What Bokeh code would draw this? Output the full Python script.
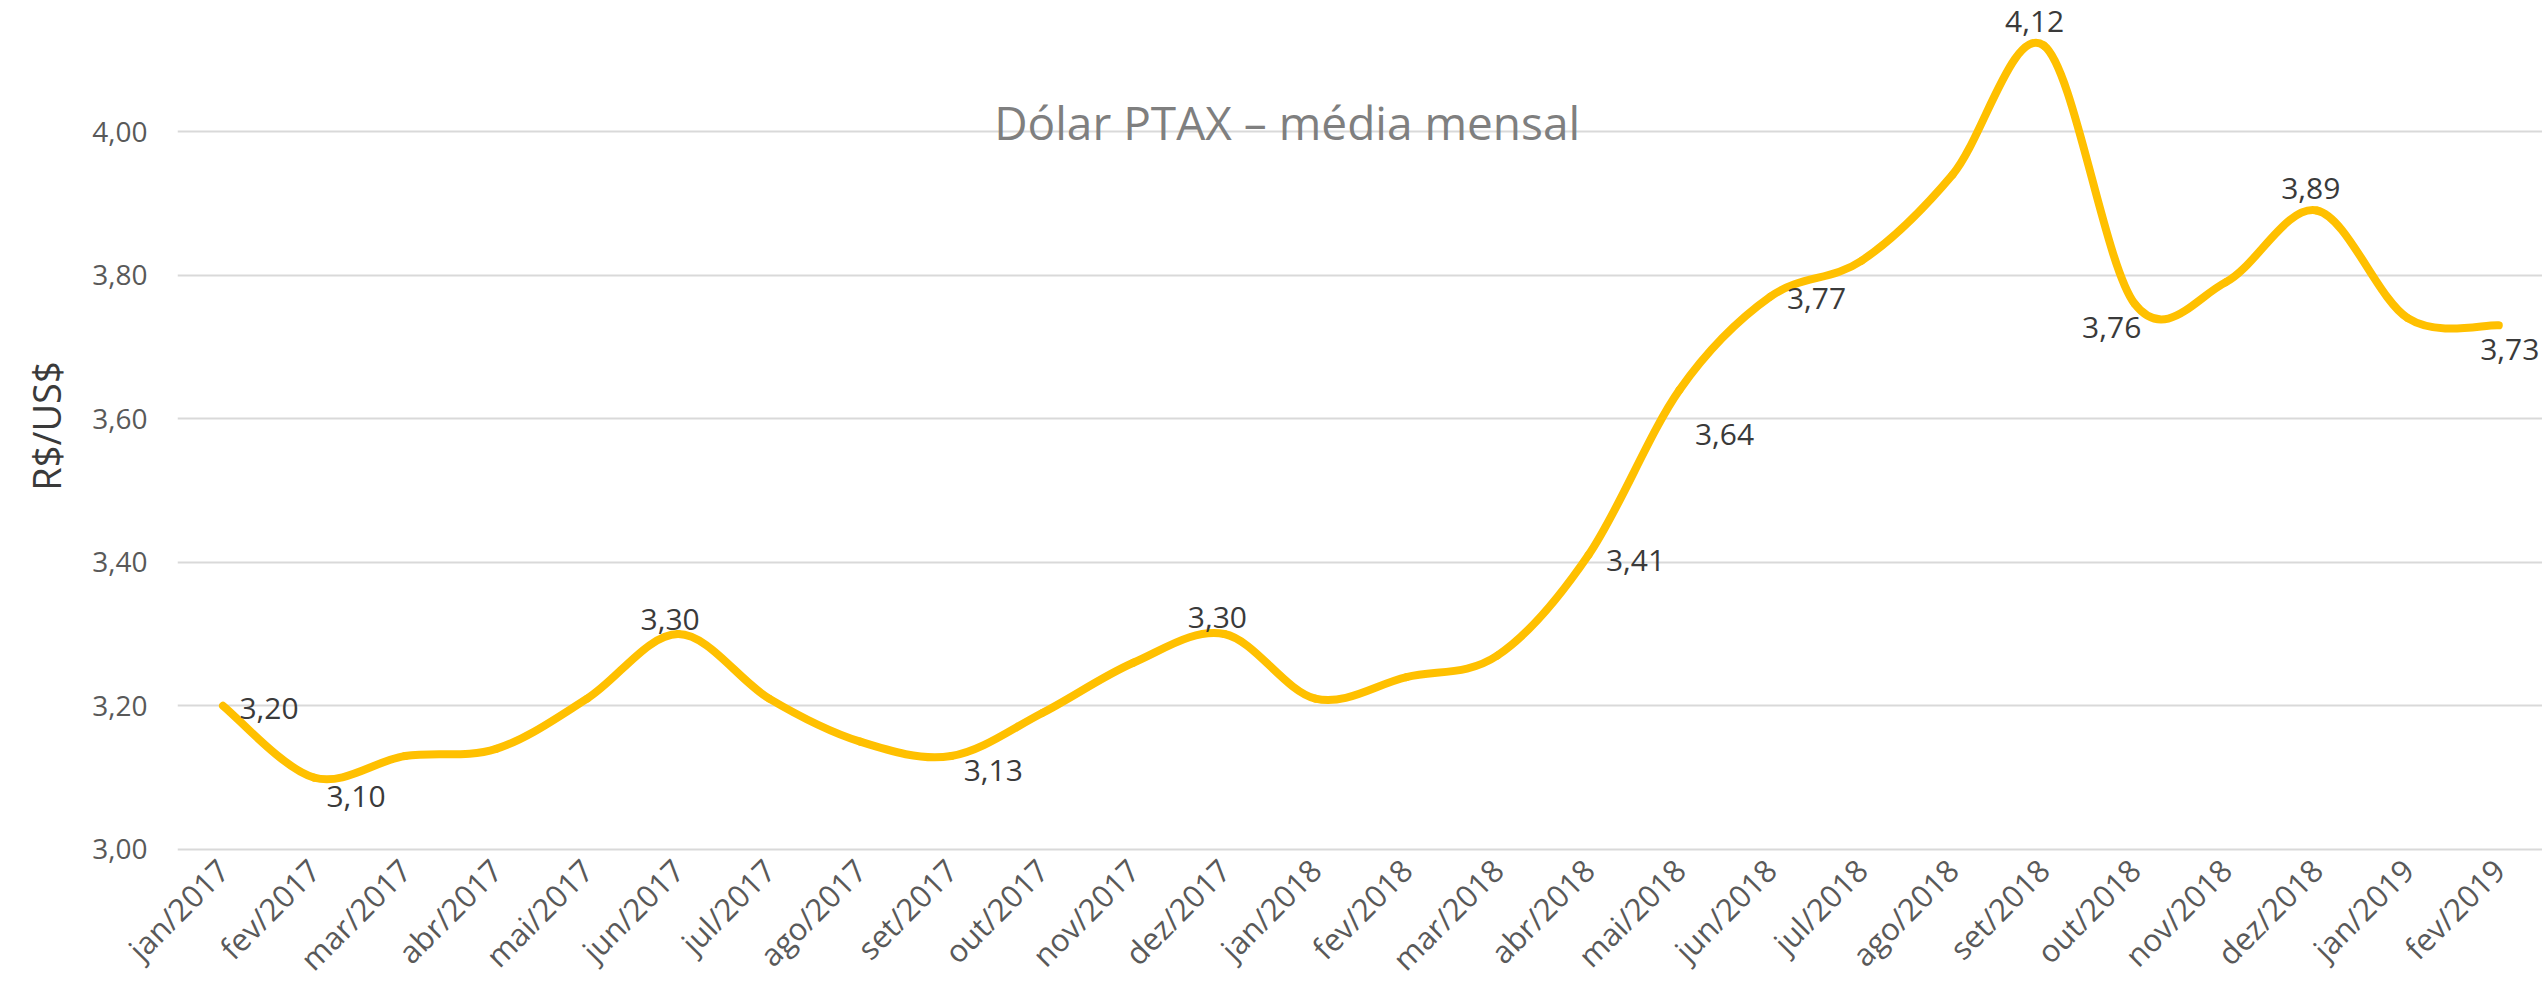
import math
from bokeh.plotting import figure
from bokeh.models import (ColumnDataSource, LabelSet, Label, FixedTicker, Range1d,
                          CustomJSTickFormatter)
from bokeh.core.properties import value
from bokeh.embed import file_html
from bokeh.resources import INLINE

# ---------------- data ----------------
months = ["jan/2017", "fev/2017", "mar/2017", "abr/2017", "mai/2017", "jun/2017",
          "jul/2017", "ago/2017", "set/2017", "out/2017", "nov/2017", "dez/2017",
          "jan/2018", "fev/2018", "mar/2018", "abr/2018", "mai/2018", "jun/2018",
          "jul/2018", "ago/2018", "set/2018", "out/2018", "nov/2018", "dez/2018",
          "jan/2019", "fev/2019"]
ptax = [3.20, 3.10, 3.13, 3.14, 3.21, 3.30,
        3.21, 3.15, 3.13, 3.19, 3.26, 3.30,
        3.21, 3.24, 3.27, 3.41, 3.64, 3.77,
        3.82, 3.94, 4.12, 3.76, 3.79, 3.89,
        3.74, 3.73]
y_ticks = [3.00, 3.20, 3.40, 3.60, 3.80, 4.00]
chart_title = "Dólar PTAX – média mensal"
y_title = "R$/US$"

# which points carry a data label, and where (pixel offsets: right, down)
labeled_idx = [0, 1, 5, 8, 11, 15, 16, 17, 20, 21, 23, 25]
label_dx = [46, 42, -8, 42, -7, 47, 45, 46, -9, -23, -6, 11]
label_dy = [3, 19, -14, 14, -16, 5, 45, 2, -24, 24, -22, 24]

FONT = "Open Sans"
LINE_COLOR = "#FFC000"

# ---------------- figure ----------------
p = figure(width=2542, height=1000,
           x_range=Range1d(-0.5, 25.48), y_range=Range1d(2.997, 4.1825),
           output_backend="svg", toolbar_location=None,
           min_border_left=177, min_border_right=0,
           min_border_top=0, min_border_bottom=149)
p.outline_line_color = None
p.background_fill_color = "white"
p.border_fill_color = "white"

# smoothed line (Catmull-Rom style Bezier, like a spreadsheet "smoothed line")
n = len(ptax)
xs = list(range(n))
x0, y0, x1, y1, cx0, cy0, cx1, cy1 = [], [], [], [], [], [], [], []
for i in range(n - 1):
    im1 = max(i - 1, 0)
    ip2 = min(i + 2, n - 1)
    x0.append(xs[i]); y0.append(ptax[i])
    x1.append(xs[i + 1]); y1.append(ptax[i + 1])
    cx0.append(xs[i] + (xs[i + 1] - xs[im1]) / 6.0)
    cy0.append(ptax[i] + (ptax[i + 1] - ptax[im1]) / 6.0)
    cx1.append(xs[i + 1] - (xs[ip2] - xs[i]) / 6.0)
    cy1.append(ptax[i + 1] - (ptax[ip2] - ptax[i]) / 6.0)
bz = ColumnDataSource(dict(x0=x0, y0=y0, x1=x1, y1=y1, cx0=cx0, cy0=cy0, cx1=cx1, cy1=cy1))
p.bezier(x0="x0", y0="y0", x1="x1", y1="y1", cx0="cx0", cy0="cy0", cx1="cx1", cy1="cy1",
         source=bz, line_color=LINE_COLOR, line_width=8, line_cap="round")

# data labels
lab = ColumnDataSource(dict(
    x=[xs[i] for i in labeled_idx],
    y=[ptax[i] for i in labeled_idx],
    text=[("%.2f" % ptax[i]).replace(".", ",") for i in labeled_idx],
    dx=label_dx,
    dy=[-d for d in label_dy],
))
p.add_layout(LabelSet(x="x", y="y", text="text", source=lab,
                      x_offset="dx", y_offset="dy",
                      text_align="center", text_baseline="middle",
                      text_font=value(FONT), text_font_size="30px",
                      text_color="#3a3a3a"))

# chart title inside plot area
p.add_layout(Label(x=11.69, y=4.0126, text=chart_title,
                   text_align="center", text_baseline="alphabetic",
                   text_font=FONT, text_font_size="46px", text_color="#7f7f7f"))

# ---------------- axes ----------------
xa = p.xaxis[0]
xa.ticker = FixedTicker(ticks=xs)
xa.formatter = CustomJSTickFormatter(args=dict(months=months),
                                     code="return months[Math.round(tick)] || '';")
xa.major_label_orientation = math.pi / 4
xa.axis_line_color = None
xa.major_tick_line_color = None
xa.minor_tick_line_color = None
xa.major_tick_out = 0
xa.major_label_standoff = 13
xa.major_label_text_font = FONT
xa.major_label_text_font_size = "31px"
xa.major_label_text_color = "#595959"

ya = p.yaxis[0]
ya.ticker = FixedTicker(ticks=y_ticks)
ya.formatter = CustomJSTickFormatter(code="return tick.toFixed(2).replace('.', ',');")
ya.axis_line_color = None
ya.major_tick_line_color = None
ya.minor_tick_line_color = None
ya.major_tick_out = 0
ya.major_label_standoff = 30
ya.major_label_text_font = FONT
ya.major_label_text_font_size = "28px"
ya.major_label_text_color = "#595959"
ya.axis_label = y_title
ya.axis_label_standoff = 17
ya.axis_label_text_font = FONT
ya.axis_label_text_font_size = "38px"
ya.axis_label_text_font_style = "normal"
ya.axis_label_text_color = "#3a3a3a"

p.xgrid.grid_line_color = None
p.ygrid.grid_line_color = "#d9d9d9"
p.ygrid.grid_line_width = 2

open("out.html", "w").write(file_html(p, INLINE))
